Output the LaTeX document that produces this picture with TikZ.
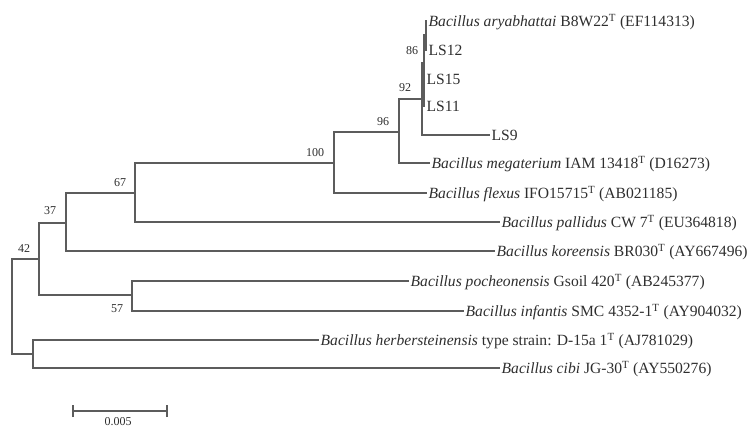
\documentclass[tikz,border=0pt]{standalone}
\usepackage{fontspec}
\setmainfont{Liberation Serif}
\definecolor{br}{HTML}{5C5C5C}
\definecolor{tx}{HTML}{2E2E2E}
\tikzset{
  leaf/.style={anchor=west, inner xsep=2.5pt, inner ysep=0pt, text height=10.5pt, text depth=0pt, text=tx, font=\fontsize{15.6}{18}\selectfont},
  bs/.style={inner sep=0pt, text=tx, font=\fontsize{12}{14}\selectfont},
  branch/.style={draw=br, line width=1.3pt, line cap=rect},
}
\begin{document}
\begin{tikzpicture}[x=1pt,y=-1pt]
\useasboundingbox (0,0) rectangle (752,428);
% internal nodes
\coordinate (root) at (12,259);
\coordinate (n42) at (39,259);
\coordinate (nhc) at (33,354);
\coordinate (n37) at (66,223);
\coordinate (n57) at (132,295);
\coordinate (n67) at (135,193);
\coordinate (n100) at (334,163);
\coordinate (n96) at (399,132);
\coordinate (n92) at (422,99);
\coordinate (nsub) at (424,63);
\coordinate (n86) at (426,35);
% leaves
\node[leaf] (ary) at (426,21) {\textit{Bacillus aryabhattai} B8W22\textsuperscript{T} (EF114313)};
\node[leaf] (ls12) at (426,50) {LS12};
\node[leaf] (ls15) at (424,79) {LS15};
\node[leaf] (ls11) at (424,106) {LS11};
\node[leaf] (ls9) at (489,135) {LS9};
\node[leaf] (meg) at (429,163) {\textit{Bacillus megaterium} IAM 13418\textsuperscript{T} (D16273)};
\node[leaf] (flex) at (426,193) {\textit{Bacillus flexus} IFO15715\textsuperscript{T} (AB021185)};
\node[leaf] (pal) at (499,222) {\textit{Bacillus pallidus} CW 7\textsuperscript{T} (EU364818)};
\node[leaf] (kor) at (494,251) {\textit{Bacillus koreensis} BR030\textsuperscript{T} (AY667496)};
\node[leaf] (poch) at (408,281) {\textit{Bacillus pocheonensis} Gsoil 420\textsuperscript{T} (AB245377)};
\node[leaf] (inf) at (463,311) {\textit{Bacillus infantis} SMC 4352-1\textsuperscript{T} (AY904032)};
\node[leaf] (herb) at (318,340) {\textit{Bacillus herbersteinensis} type strain: D-15a 1\textsuperscript{T} (AJ781029)};
\node[leaf] (cibi) at (499,368) {\textit{Bacillus cibi} JG-30\textsuperscript{T} (AY550276)};
% branches
\draw[branch] (root) |- (n42);
\draw[branch] (root) |- (nhc);
\draw[branch] (n42) |- (n37);
\draw[branch] (n42) |- (n57);
\draw[branch] (nhc) |- (herb.west);
\draw[branch] (nhc) |- (cibi.west);
\draw[branch] (n37) |- (n67);
\draw[branch] (n37) |- (kor.west);
\draw[branch] (n57) |- (poch.west);
\draw[branch] (n57) |- (inf.west);
\draw[branch] (n67) |- (n100);
\draw[branch] (n67) |- (pal.west);
\draw[branch] (n100) |- (n96);
\draw[branch] (n100) |- (flex.west);
\draw[branch] (n96) |- (n92);
\draw[branch] (n96) |- (meg.west);
\draw[branch] (n92) |- (nsub);
\draw[branch] (n92) |- (ls9.west);
\draw[branch] (nsub) |- (n86);
\draw[branch] (nsub) |- (ls15.west);
\draw[branch] (nsub) |- (ls11.west);
\draw[branch] (n86) |- (ary.west);
\draw[branch] (n86) |- (ls12.west);
% bootstrap values
\node[bs] (b86) at (412,51) {86};
\node[bs] (b92) at (405,88) {92};
\node[bs] (b96) at (383,122) {96};
\node[bs] (b100) at (315,153) {100};
\node[bs] (b67) at (120,183) {67};
\node[bs] (b37) at (50,211) {37};
\node[bs] (b42) at (24,249) {42};
\node[bs] (b57) at (117,309) {57};
% scale bar
\coordinate (sbl) at (73,411);
\coordinate (sbr) at (167,411);
\draw[branch, line cap=butt] (sbl) -- (sbr);
\draw[branch, line cap=butt] ([yshift=-6pt]sbl) -- ([yshift=6pt]sbl);
\draw[branch, line cap=butt] ([yshift=-6pt]sbr) -- ([yshift=6pt]sbr);
\node[bs, anchor=base] (sblab) at (118,425) {0.005};
\end{tikzpicture}
\end{document}
